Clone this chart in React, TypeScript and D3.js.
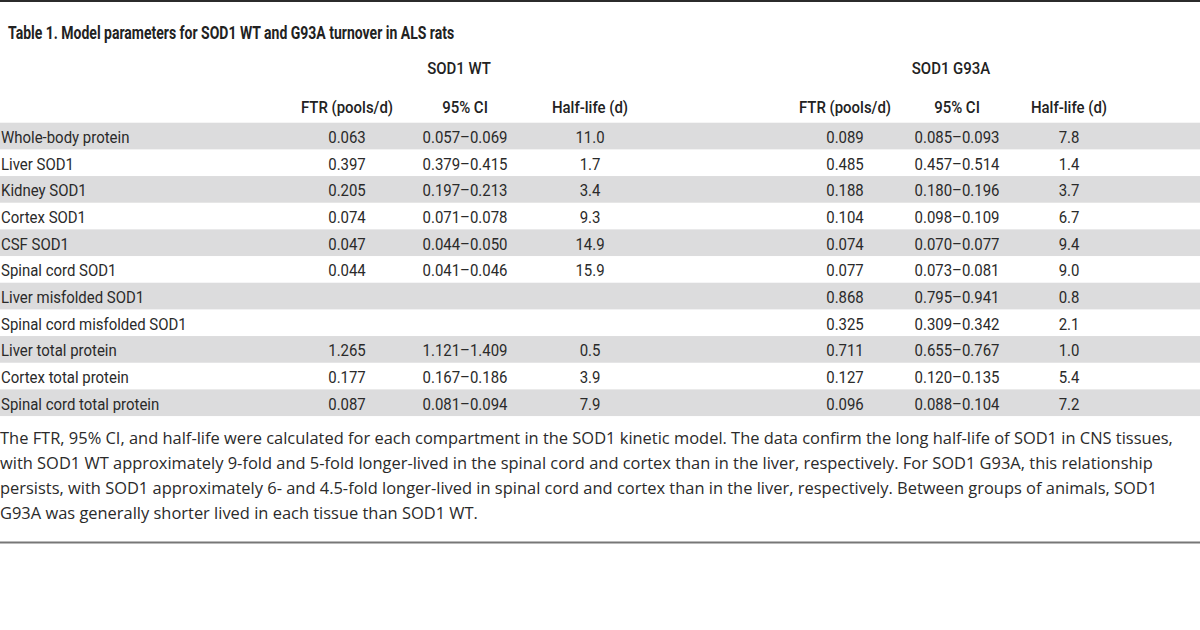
import React from "react";
import * as d3 from "d3";

const title = "Table 1. Model parameters for SOD1 WT and G93A turnover in ALS rats";
const groupLabels = ["SOD1 WT", "SOD1 G93A"];
const columnHeaders = ["FTR (pools/d)", "95% CI", "Half-life (d)", "FTR (pools/d)", "95% CI", "Half-life (d)"];
const rowLabels = [
  "Whole-body protein",
  "Liver SOD1",
  "Kidney SOD1",
  "Cortex SOD1",
  "CSF SOD1",
  "Spinal cord SOD1",
  "Liver misfolded SOD1",
  "Spinal cord misfolded SOD1",
  "Liver total protein",
  "Cortex total protein",
  "Spinal cord total protein",
];
const wtFtr = ["0.063", "0.397", "0.205", "0.074", "0.047", "0.044", "", "", "1.265", "0.177", "0.087"];
const wtCi = ["0.057–0.069", "0.379–0.415", "0.197–0.213", "0.071–0.078", "0.044–0.050", "0.041–0.046", "", "", "1.121–1.409", "0.167–0.186", "0.081–0.094"];
const wtHalf = ["11.0", "1.7", "3.4", "9.3", "14.9", "15.9", "", "", "0.5", "3.9", "7.9"];
const g93Ftr = ["0.089", "0.485", "0.188", "0.104", "0.074", "0.077", "0.868", "0.325", "0.711", "0.127", "0.096"];
const g93Ci = ["0.085–0.093", "0.457–0.514", "0.180–0.196", "0.098–0.109", "0.070–0.077", "0.073–0.081", "0.795–0.941", "0.309–0.342", "0.655–0.767", "0.120–0.135", "0.088–0.104"];
const g93Half = ["7.8", "1.4", "3.7", "6.7", "9.4", "9.0", "0.8", "2.1", "1.0", "5.4", "7.2"];
const captionLines = [
  "The FTR, 95% CI, and half-life were calculated for each compartment in the SOD1 kinetic model. The data confirm the long half-life of SOD1 in CNS tissues,",
  "with SOD1 WT approximately 9-fold and 5-fold longer-lived in the spinal cord and cortex than in the liver, respectively. For SOD1 G93A, this relationship",
  "persists, with SOD1 approximately 6- and 4.5-fold longer-lived in spinal cord and cortex than in the liver, respectively. Between groups of animals, SOD1",
  "G93A was generally shorter lived in each tissue than SOD1 WT.",
];

const W = 1200;
const H = 630;
const tableFont = "'Roboto', 'Open Sans', sans-serif";
const captionFont = "'Open Sans', 'Noto Sans', sans-serif";
const COND = 0.88;

function CText(props: {
  x: number;
  y: number;
  anchor?: string;
  size: number;
  weight?: number | string;
  sx?: number;
  fill?: string;
  children: React.ReactNode;
}) {
  const { x, y, anchor = "start", size, weight = 400, sx = COND, fill = "#2a2a2a", children } = props;
  return (
    <text
      transform={`translate(${x},${y}) scale(${sx},1)`}
      textAnchor={anchor}
      fontSize={size}
      fontWeight={weight}
      fill={fill}
      fontFamily={tableFont}
    >
      {children}
    </text>
  );
}

export default function App() {
  const columns = [wtFtr, wtCi, wtHalf, g93Ftr, g93Ci, g93Half];
  const colKeys = d3.range(columns.length).map(String);
  const colX = d3.scaleOrdinal<string, number>().domain(colKeys).range([347, 465, 590, 845, 957, 1069]);
  const groupX = d3.scaleOrdinal<string, number>().domain(groupLabels).range([459, 951]);
  const rowY = d3
    .scaleBand<string>()
    .domain(rowLabels)
    .range([122.7, 122.7 + 26.67 * rowLabels.length])
    .padding(0);
  const captionY = d3.scaleLinear().domain([0, 1]).range([444, 469]);
  const base = (r: string) => (rowY(r) as number) + 20.3;

  return (
    <svg width={W} height={H} style={{ position: "absolute", left: 0, top: 0, background: "#fff" }}>
      <rect x={0} y={0} width={W} height={H} fill="#fff" />
      <rect x={0} y={0} width={W} height={2} fill="#2b2b2b" />
      <CText x={8} y={38.5} size={18.8} weight="bold" sx={0.745} fill="#222">
        {title}
      </CText>
      {groupLabels.map((g) => (
        <CText key={g} x={groupX(g)} y={74} anchor="middle" size={17} weight={500} fill="#222">
          {g}
        </CText>
      ))}
      {columnHeaders.map((h, i) => (
        <CText key={i} x={colX(String(i))} y={113} anchor="middle" size={17} weight={500} fill="#222">
          {h}
        </CText>
      ))}
      {rowLabels.map((r, i) => (
        <g key={r}>
          {i % 2 === 0 && <rect x={0} y={rowY(r)} width={W} height={rowY.bandwidth()} fill="#dcdcdd" />}
          <CText x={1} y={base(r)} size={17}>
            {r}
          </CText>
          {columns.map((col, c) =>
            col[i] ? (
              <CText key={c} x={colX(String(c))} y={base(r)} anchor="middle" size={17}>
                {col[i]}
              </CText>
            ) : null
          )}
        </g>
      ))}
      {captionLines.map((l, i) => (
        <text key={i} x={0} y={captionY(i)} fontSize={16.45} fontFamily={captionFont} fill="#2a2a2a">
          {l}
        </text>
      ))}
      <rect x={0} y={541.5} width={W} height={2} fill="#777" />
    </svg>
  );
}
